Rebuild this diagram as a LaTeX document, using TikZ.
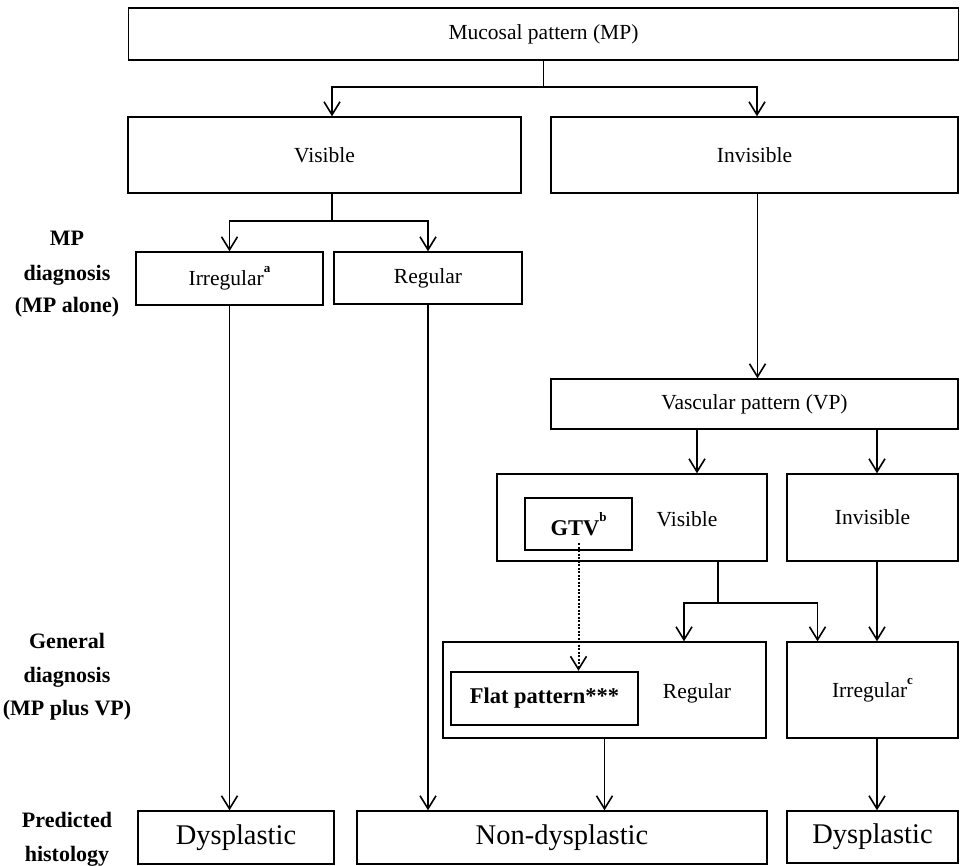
\documentclass[tikz,border=0pt]{standalone}
\usepackage{fontspec}
\setmainfont{Liberation Serif}
\usetikzlibrary{arrows.meta,calc}
\newcommand\supx[1]{\raisebox{0.6em}{\fontsize{13}{13}\selectfont\bfseries #1}}
\begin{document}
\begin{tikzpicture}[x=1pt,y=-1pt,
  bx/.style={draw,line width=1.4pt,inner sep=0pt,font=\fontsize{21.5}{24}\selectfont},
  bbx/.style={draw,line width=1.4pt,inner sep=0pt,font=\fontsize{28.5}{32}\selectfont},
  tbx/.style={draw,line width=2.4pt,inner sep=0pt,font=\fontsize{22.5}{26}\selectfont\bfseries},
  txt/.style={inner sep=0pt,font=\fontsize{21.5}{24}\selectfont},
  lbl/.style={inner sep=0pt,anchor=base,font=\fontsize{22}{26}\selectfont\bfseries},
  ln/.style={line width=1.6pt},
  arr/.style={line width=1.6pt,-{Straight Barb[length=13pt,width=16pt]}},
  darr/.style={line width=2pt,dash pattern=on 2pt off 1.5pt,-{Straight Barb[length=13pt,width=16pt,line width=1.6pt]}}
]
\useasboundingbox (0,0) rectangle (960,865);

% left labels
\node[lbl] (l1a) at (67,245) {MP};
\node[lbl] (l1b) at (67,280) {diagnosis};
\node[lbl] (l1c) at (67,312) {(MP alone)};
\node[lbl] (l2a) at (67,648) {General};
\node[lbl] (l2b) at (67,682) {diagnosis};
\node[lbl] (l2c) at (67,715) {(MP plus VP)};
\node[lbl] (l3a) at (67,827) {Predicted};
\node[lbl] (l3b) at (67,861) {histology};

% boxes
\node[bx,minimum width=830pt,minimum height=52pt] (mp) at (543.5,34) {\raisebox{-3pt}{Mucosal pattern (MP)}};
\node[bx,minimum width=393pt,minimum height=76pt] (vis) at (324.5,155) {Visible};
\node[bx,minimum width=407pt,minimum height=76pt] (inv) at (754.5,155) {\raisebox{-3pt}{Invisible}};
\node[bx,minimum width=187pt,minimum height=53pt] (irr) at (229.5,278.5) {Irregular\supx{a}};
\node[bx,minimum width=188pt,minimum height=52pt] (reg) at (428,278) {Regular};
\node[bx,minimum width=407pt,minimum height=50pt] (vp) at (754.5,404) {\raisebox{-2pt}{Vascular pattern (VP)}};
\node[bx,minimum width=270pt,minimum height=87pt] (vvis) at (632,517.5) {};
\node[txt] (vvist) at (687,519) {Visible};
\node[tbx,minimum width=107pt,minimum height=52pt] (gtv) at (578.5,524) {GTV\supx{b}};
\node[bx,minimum width=171pt,minimum height=87pt] (ivp) at (872.5,517.5) {\raisebox{-3pt}{Invisible}};
\node[bx,minimum width=323pt,minimum height=96pt] (greg) at (604.5,690) {};
\node[txt] (gregt) at (697,693) {Regular};
\node[tbx,minimum width=187pt,minimum height=53pt] (flat) at (544.5,698.5) {Flat pattern***};
\node[bx,minimum width=171pt,minimum height=96pt] (girr) at (872.5,690) {\raisebox{-6pt}{Irregular\supx{c}}};
\node[bbx,minimum width=196pt,minimum height=53pt] (dys1) at (236,837.5) {\raisebox{-2pt}{Dysplastic}};
\node[bbx,minimum width=410pt,minimum height=53pt] (nd) at (562,837.5) {\raisebox{-2pt}{Non-dysplastic}};
\node[bbx,minimum width=171pt,minimum height=52pt] (dys2) at (872.5,837) {\raisebox{-2pt}{Dysplastic}};

% connectors: MP -> visible / invisible
\coordinate (j1) at ($(mp.south)+(0,26)$);
\draw[ln] (mp.south) -- (j1);
\draw[arr] (j1) -| ([xshift=7.5pt]vis.north);
\draw[arr] (j1) -| ([xshift=2.5pt]inv.north);

% visible -> irregular / regular
\coordinate (j2) at ([xshift=7.5pt,yshift=-27pt]vis.south);
\draw[ln] ([xshift=7.5pt]vis.south) -- (j2);
\draw[arr] (j2) -| (irr.north);
\draw[arr] (j2) -| (reg.north);

% MP alone -> histology
\draw[arr] (irr.south) -- (irr.south |- dys1.north);
\draw[arr] (reg.south) -- (reg.south |- nd.north);

% invisible -> VP
\draw[arr] ([xshift=3pt]inv.south) -- ([xshift=3pt]inv.south |- vp.north);

% VP -> visible / invisible
\draw[arr] ([xshift=65pt]vvis.north |- vp.south) -- ([xshift=65pt]vvis.north);
\draw[arr] ([xshift=4.5pt]ivp.north |- vp.south) -- ([xshift=4.5pt]ivp.north);

% VP visible -> regular / irregular
\coordinate (j3) at ([xshift=86pt,yshift=-41pt]vvis.south);
\draw[ln] ([xshift=86pt]vvis.south) -- (j3);
\draw[arr] (j3) -| ([xshift=79.5pt]greg.north);
\draw[arr] (j3) -| ([xshift=-55pt]girr.north);

% VP invisible -> irregular
\draw[arr] ([xshift=4.5pt]ivp.south) -- ([xshift=4.5pt]girr.north);

% GTV dotted -> flat pattern
\draw[darr] ([yshift=8pt]gtv.south) -- (gtv.south |- flat.north);

% general -> histology
\draw[arr] (greg.south) -- (greg.south |- nd.north);
\draw[arr] ([xshift=4.5pt]girr.south) -- ([xshift=4.5pt]girr.south |- dys2.north);
\end{tikzpicture}
\end{document}
